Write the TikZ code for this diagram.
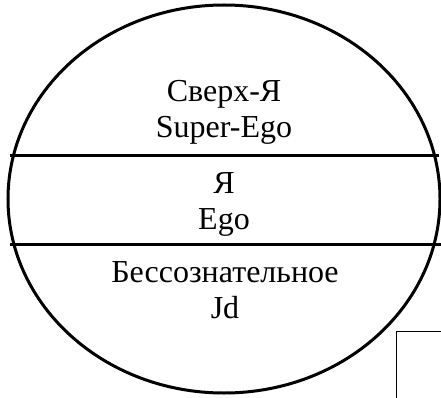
\documentclass[tikz,border=0pt]{standalone}
\usepackage{fontspec}
\setmainfont{Liberation Serif}
\usetikzlibrary{shapes.geometric}
\tikzset{
  psyche/.style={draw, ellipse, line width=3pt, inner sep=0pt,
                 minimum width=432pt, minimum height=388pt},
  divider/.style={line width=2.5pt},
  layer/.style={align=center, inner sep=0pt, font=\fontsize{32}{36}\selectfont},
  frame/.style={draw, line width=1pt, minimum width=90pt, minimum height=110pt},
}

\begin{document}
\begin{tikzpicture}[x=1pt, y=-1pt]
\clip (0,0) rectangle (441,398);
% Outer ellipse
\node[psyche] (mind) at (224,199) {};
% Dividing lines
\coordinate (topL) at (10,155.5);
\coordinate (topR) at (439,155.5);
\coordinate (botL) at (10,244.5);
\coordinate (botR) at (441,244.5);
\draw[divider] (topL) -- (topR);
\draw[divider] (botL) -- (botR);
% Layer labels
\node[layer, anchor=base] (superego) at (224,138) {Сверх-Я\\Super-Ego};
\node[layer, anchor=base] (ego) at (224,229) {Я\\Ego};
\node[layer, anchor=base] (id) at (225,318) {Бессознательное\\Jd};
% Corner frame
\node[frame, anchor=north west] (corner) at (396,331) {};
\end{tikzpicture}
\end{document}
